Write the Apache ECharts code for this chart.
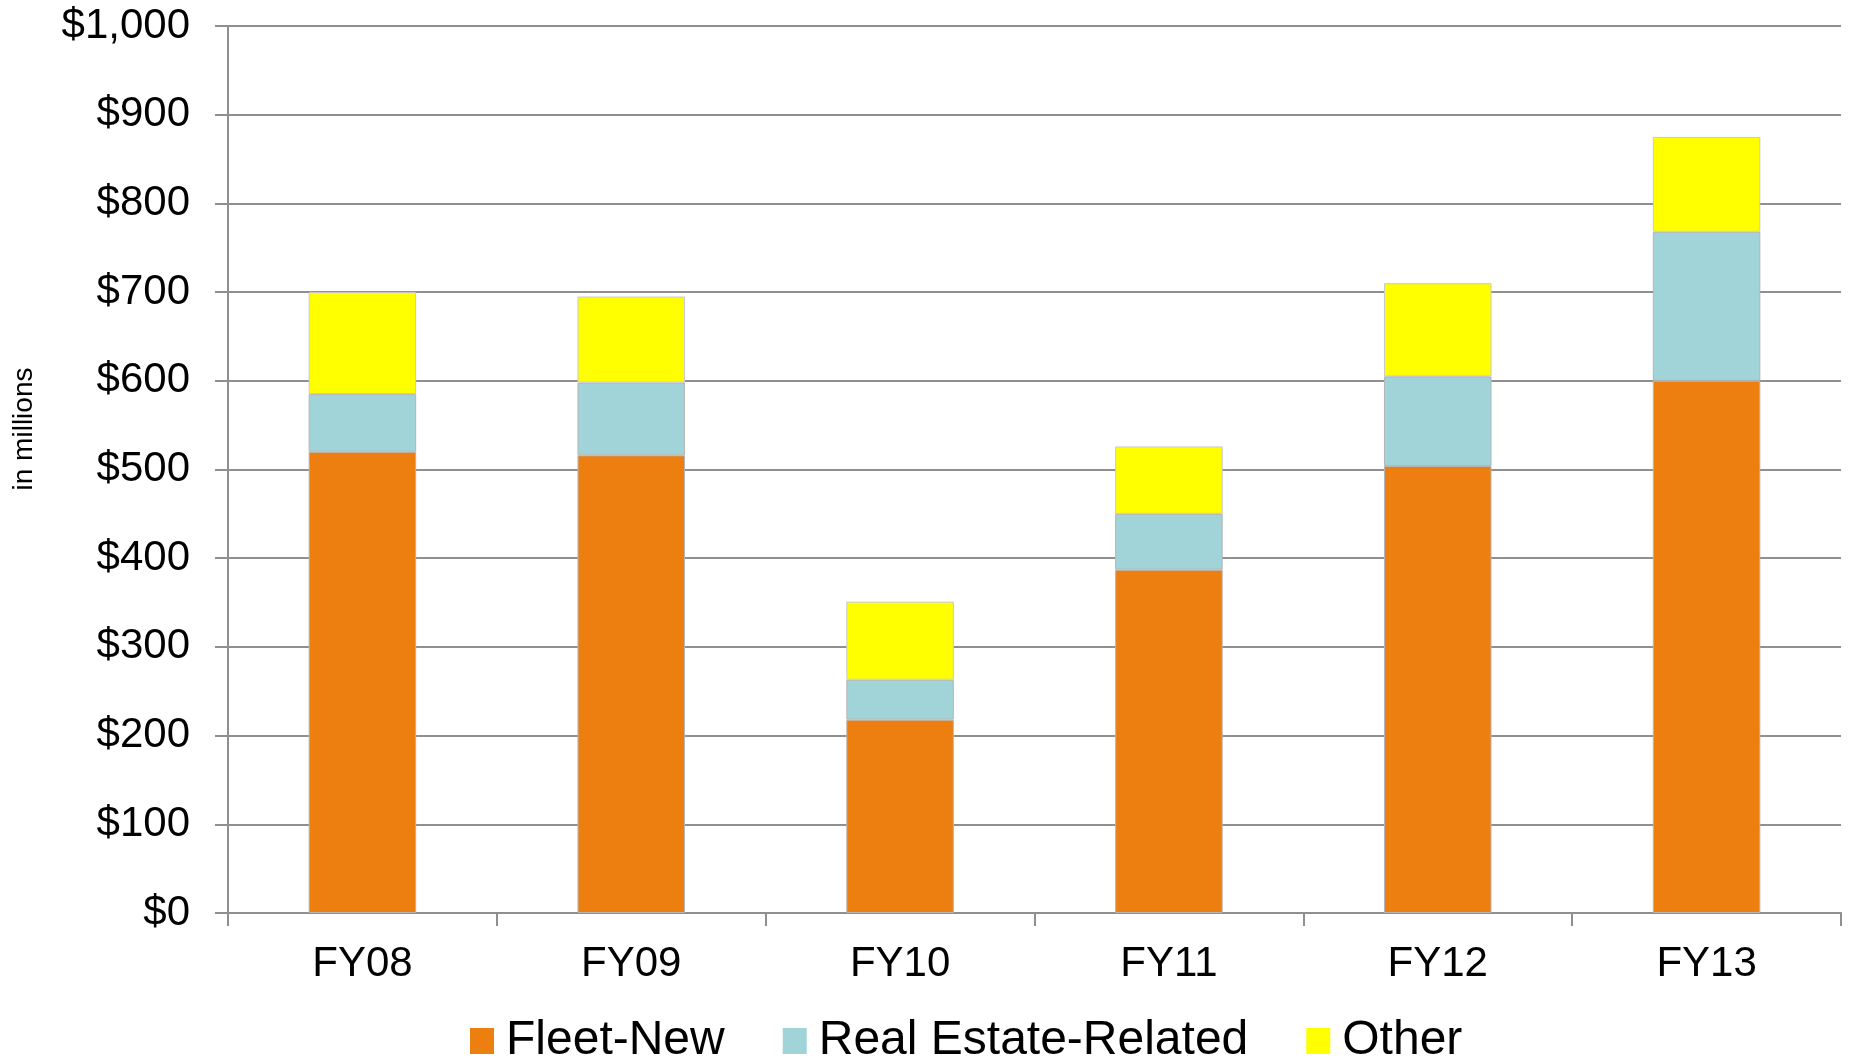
<!DOCTYPE html>
<html>
<head>
<meta charset="utf-8">
<script src="https://cdn.jsdelivr.net/npm/echarts@6/dist/echarts.min.js"></script>
<style>
  html, body { margin: 0; padding: 0; background: #fff; }
  #main { width: 1852px; height: 1059px; }
</style>
</head>
<body>
<div id="main"></div>
<script>
var years = ['FY08', 'FY09', 'FY10', 'FY11', 'FY12', 'FY13'];
var fleetNew = [520, 516, 218, 387, 504, 600];
var realEstate = [65, 82, 45, 63, 101, 168];
var other = [115, 97, 88, 76, 105, 107];
var seriesNames = ['Fleet-New', 'Real Estate-Related', 'Other'];

setTimeout(() => {
    chart_1()
}, 50)

function chart_1 () {
    var myChart = echarts.init(document.getElementById('main'));
    var font = 'Liberation Sans, Arial, sans-serif';

    var option = {
        color: ['#ED7F11', '#A0D4D8', '#FFFF00'],
        animation: false,
        textStyle: { fontFamily: font },
        grid: {
            left: 228,
            right: 11,
            top: 26,
            bottom: 146
        },
        legend: {
            left: 465,
            top: 1038 - 26,
            itemWidth: 24,
            itemHeight: 26,
            itemGap: 58,
            icon: 'rect',
            itemStyle: { borderWidth: 0 },
            textStyle: {
                fontSize: 48,
                color: '#000',
                fontFamily: font,
                padding: [0, 0, 0, 7]
            },
            data: seriesNames
        },
        graphic: [{
            type: 'text',
            x: 24,
            y: 429,
            rotation: Math.PI / 2,
            style: {
                text: 'in millions',
                fontSize: 28,
                fontFamily: font,
                fill: '#000',
                align: 'center',
                verticalAlign: 'middle'
            }
        }],
        xAxis: {
            type: 'category',
            data: years,
            axisLine: { lineStyle: { color: '#8f8f8f', width: 2 } },
            axisTick: { show: true, length: 13, lineStyle: { color: '#8f8f8f', width: 2 } },
            axisLabel: {
                margin: 30,
                fontSize: 42,
                color: '#000',
                fontFamily: font
            }
        },
        yAxis: {
            type: 'value',
            min: 0,
            max: 1000,
            interval: 100,
            axisLine: { show: true, lineStyle: { color: '#8f8f8f', width: 2 } },
            axisTick: { show: true, length: 13, lineStyle: { color: '#8f8f8f', width: 2 } },
            splitLine: { lineStyle: { color: '#8f8f8f', width: 2 } },
            axisLabel: {
                margin: 38,
                fontSize: 42,
                color: '#000',
                fontFamily: font,
                formatter: function (v) {
                    return '$' + v.toLocaleString('en-US');
                }
            }
        },
        series: [
            {
                name: seriesNames[0],
                type: 'bar',
                stack: 'total',
                barWidth: '40%',
                itemStyle: { borderColor: '#b5b5b5', borderWidth: 1 },
                data: fleetNew
            },
            {
                name: seriesNames[1],
                type: 'bar',
                stack: 'total',
                itemStyle: { borderColor: '#b5b5b5', borderWidth: 1 },
                data: realEstate
            },
            {
                name: seriesNames[2],
                type: 'bar',
                stack: 'total',
                itemStyle: { borderColor: '#c8c8c8', borderWidth: 1 },
                data: other
            }
        ]
    };

    myChart.setOption(option);
}
</script>
</body>
</html>
